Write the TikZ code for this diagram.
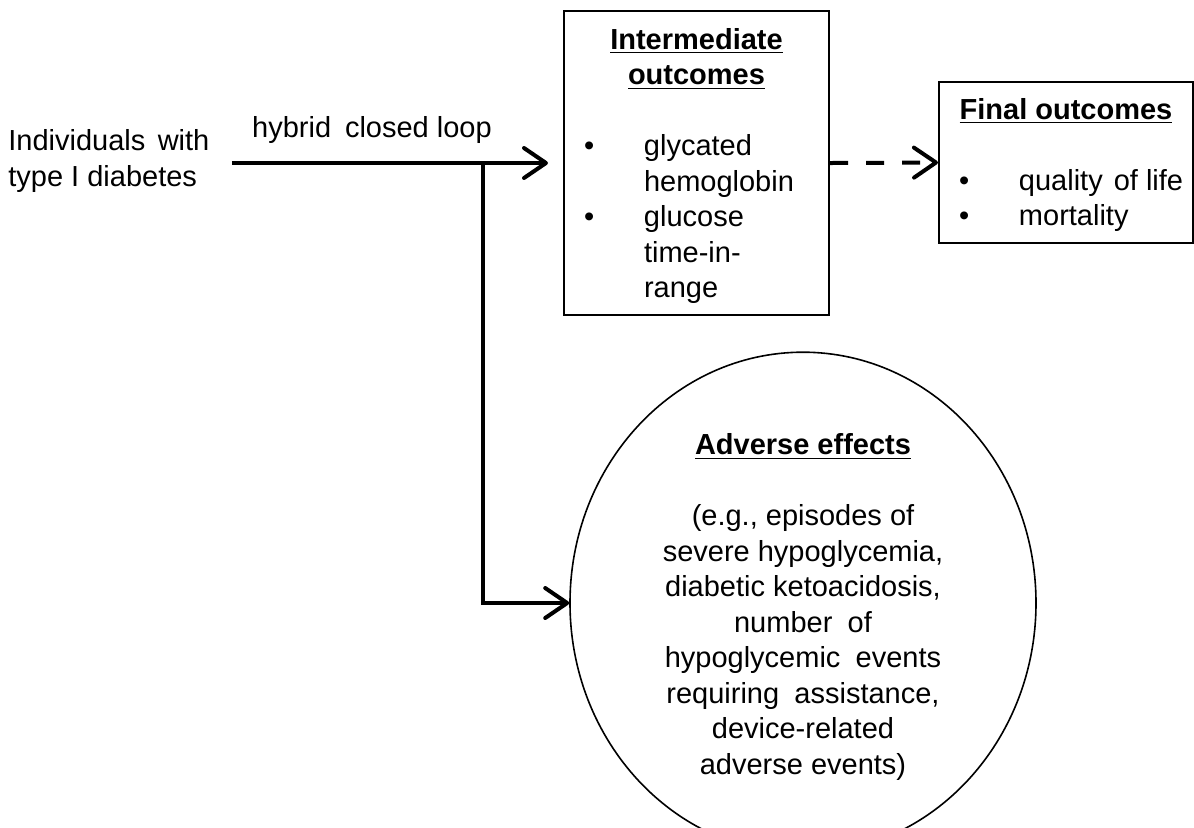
\documentclass[tikz,border=0pt]{standalone}
\usepackage{fontspec}
\setmainfont{Liberation Sans}
\usetikzlibrary{
  arrows.meta,
  shapes.geometric,
  positioning,
}

\tikzset{
  txt/.style={font=\fontsize{14.5}{17.75}\selectfont, inner sep=0pt},
  outbox/.style={txt, draw, line width=1pt, anchor=north west},
  effect/.style={txt, ellipse, draw, line width=0.8pt, align=center,
    minimum width=233pt, minimum height=225pt},
  flow/.style={line width=2pt, -{Straight Barb[length=11pt,width=15pt,round]}},
}
\newcommand{\bul}{\makebox[40pt][l]{\hspace{10pt}\textbullet}}
\newcommand{\ttl}[1]{\textbf{\underline{#1}}}

\begin{document}
\begin{tikzpicture}[x=0.5pt,y=-0.5pt]
  \useasboundingbox (0,0) rectangle (1194,827);

  \node[txt, align=left, anchor=base west] (indiv) at (8,186)
    {Individuals\hspace{0.15em} with\\type I diabetes};
  \node[txt] (hcl) at (372,130) {hybrid\hspace{0.2em} closed loop};

  \node[outbox] (inter) at (563,10) {%
    \begin{minipage}[t][152pt][t]{132.5pt}
      {\centering\rule{0pt}{19.2pt}\ttl{Intermediate}\\\ttl{outcomes}\par}
      \vspace{17.75pt}
      \noindent\bul glycated\\\hspace*{40pt}hemoglobin\par
      \noindent\bul glucose\\\hspace*{40pt}time-in-\\\hspace*{40pt}range\par
    \end{minipage}};

  \node[outbox] (final) at (938,81) {%
    \begin{minipage}[t][80.5pt][t]{127pt}
      {\centering\rule{0pt}{18.7pt}\ttl{Final outcomes}\par}
      \vspace{17.75pt}
      \noindent\bul quality\hspace{0.1em} of life\par
      \noindent\bul mortality\par
    \end{minipage}};

  \node[effect] (adverse) at (803,603) {%
    \rule{0pt}{14.6pt}\ttl{Adverse effects}\\[17.75pt]
    (e.g., episodes of\\
    severe hypoglycemia,\\
    diabetic ketoacidosis,\\
    number\hspace{0.25em} of\\
    hypoglycemic\hspace{0.25em} events\\
    requiring\hspace{0.25em} assistance,\\
    device-related\\
    adverse events)};

  \coordinate (split) at (483,162);

  \draw[flow, shorten <=11pt, shorten >=7.5pt] (indiv.east |- inter.west) -- (inter.west);
  \draw[flow] (split) |- (adverse.west);
  \draw[flow, dash pattern=on 9pt off 9pt] (inter.east) -- (final.west);
\end{tikzpicture}
\end{document}
